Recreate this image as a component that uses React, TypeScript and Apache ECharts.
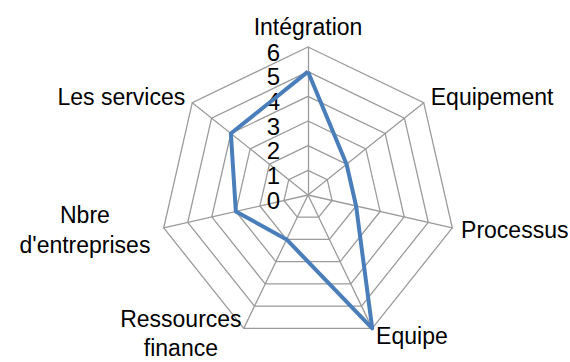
import React, { useEffect, useRef } from "react";
import * as echarts from "echarts";

// Categories in clockwise order starting from the top
const categories: string[] = [
  "Intégration",
  "Equipement",
  "Processus",
  "Equipe",
  "Ressources\nfinance",
  "Nbre\nd'entreprises",
  "Les services",
];
const values: number[] = [5, 2, 2, 6, 2, 3, 4];
const tickLabels: string[] = ["0", "1", "2", "3", "4", "5", "6"];
const maxValue = 6;

export default function App() {
  const ref = useRef<HTMLDivElement>(null);
  useEffect(() => {
    if (!ref.current) return;
    const chart = echarts.init(ref.current, null, { renderer: "svg" });
    // ECharts lays radar indicators counter-clockwise; reverse all but the first
    const order = [0, ...categories.map((_, i) => i).slice(1).reverse()];
    const font = "Liberation Sans";
    chart.setOption({
      animation: false,
      backgroundColor: "#ffffff",
      radar: {
        center: [308, 195],
        radius: 148,
        startAngle: 90,
        splitNumber: tickLabels.length - 1,
        shape: "polygon",
        nameGap: 9,
        axisName: {
          color: "#000000",
          fontSize: 23,
          fontFamily: font,
          formatter: (name: string) => {
            if (!name.includes("\n")) return name;
            const tag = name.startsWith("Ressources") ? "b" : "a";
            return name
              .split("\n")
              .map((l) => `{${tag}|${l}}`)
              .join("\n");
          },
          rich: {
            a: {
              width: 140,
              align: "center",
              fontSize: 23,
              fontFamily: font,
              lineHeight: 30,
              color: "#000000",
            },
            b: {
              width: 118,
              align: "center",
              fontSize: 23,
              fontFamily: font,
              lineHeight: 29,
              padding: [0, 0, 6, 0],
              color: "#000000",
            },
          },
        },
        indicator: order.map((i) => ({
          name: categories[i],
          min: 0,
          max: maxValue,
          ...(i === 0
            ? {
                axisLabel: {
                  show: true,
                  color: "#000000",
                  fontSize: 24,
                  lineHeight: 10,
                  verticalAlign: "top",
                  fontFamily: font,
                  margin: 28,
                  formatter: (v: number) => tickLabels[Math.round(v)] ?? "",
                },
              }
            : {}),
        })),
        splitLine: { lineStyle: { color: "#9b9b9b", width: 1.3 } },
        splitArea: { show: false },
        axisLine: { lineStyle: { color: "#9b9b9b", width: 1.3 } },
        axisTick: { show: false },
        axisLabel: { show: false },
      },
      series: [
        {
          type: "radar",
          symbol: "none",
          lineStyle: { color: "#4a7ebb", width: 4 },
          data: [{ value: order.map((i) => values[i]) }],
        },
      ],
    });
    return () => chart.dispose();
  }, []);
  return (
    <div
      ref={ref}
      style={{ position: "absolute", left: 0, top: 0, width: 570, height: 362 }}
    />
  );
}
